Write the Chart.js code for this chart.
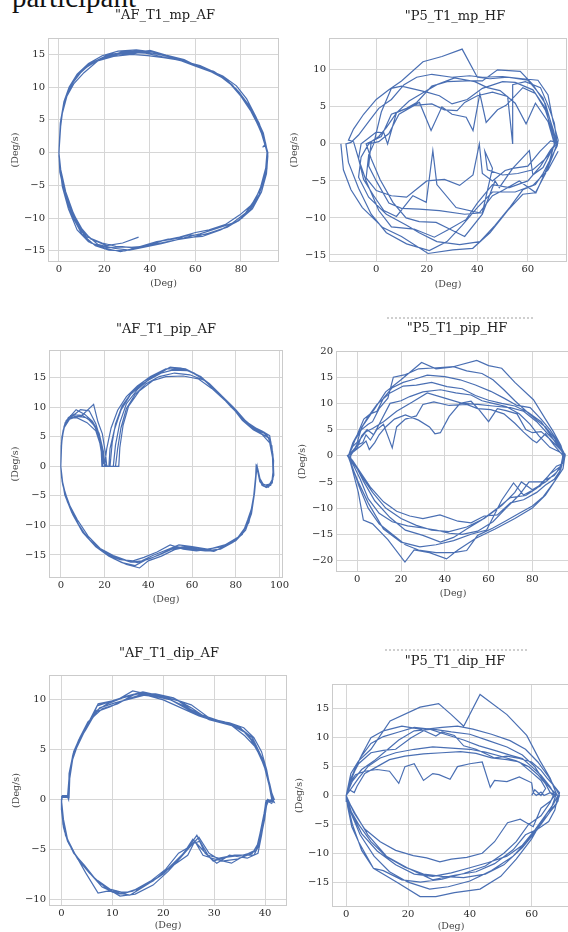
<!DOCTYPE html>
<html>
<head>
<meta charset="utf-8">
<script src="https://cdn.jsdelivr.net/npm/chart.js@4.4.0/dist/chart.umd.min.js"></script>
<style>
  html, body { margin: 0; padding: 0; background: #fff; }
  body { position: relative; width: 568px; height: 932px; overflow: hidden; }
  .panel { position: absolute; }
  .ttl { position: absolute; transform: translate(-50%, -50%); font-family: 'DejaVu Serif', serif; font-size: 13px; color: #222; white-space: nowrap; }
  .cap { position: absolute; left: 12px; top: -17px; font-family: 'Liberation Serif', serif; font-size: 29px; line-height: 29px; color: #111; white-space: nowrap; }
  .cut { position: absolute; height: 0; border-top: 2px dotted #cfcfcf; }
</style>
</head>
<body>
<div class="cap">participant</div>
<div class="cut" style="left:387px; top:317px; width:146px;"></div>
<div class="cut" style="left:385px; top:649px; width:142px;"></div>
<script>
// phase plots: joint angle (Deg) vs angular velocity (Deg/s)

// --- tick labels ---
const mpAF_xTicks = [0, 20, 40, 60, 80];
const mpAF_yTicks = [-15, -10, -5, 0, 5, 10, 15];
const mpHF_xTicks = [0, 20, 40, 60];
const mpHF_yTicks = [-15, -10, -5, 0, 5, 10];
const pipAF_xTicks = [0, 20, 40, 60, 80, 100];
const pipAF_yTicks = [-15, -10, -5, 0, 5, 10, 15];
const pipHF_xTicks = [0, 20, 40, 60, 80];
const pipHF_yTicks = [-20, -15, -10, -5, 0, 5, 10, 15, 20];
const dipAF_xTicks = [0, 10, 20, 30, 40];
const dipAF_yTicks = [-10, -5, 0, 5, 10];
const dipHF_xTicks = [0, 20, 40, 60];
const dipHF_yTicks = [-15, -10, -5, 0, 5, 10, 15];

// --- traces, [deg, deg/s] ---
const mpAF = [
  [35,-12.9],[28,-13.8],[21,-14.2],[14,-13.2],[9,-11.2],[5,-8.2],[2,-5.2],[0.4,-2],[0,0],
  [0.6,4.5],[2.2,7.8],[4.5,10],[8,12],[13,13.6],[19,14.8],[26,15.5],[34,15.7],[41,15.4],[49,14.6],[57,13.8],[64,12.9],[71,11.6],[77,10],[82,7.8],[86,5.3],[89.5,2.6],[91.5,0],
  [90.8,-2.8],[88.6,-5.3],[85.5,-7.8],[80.5,-10],[74,-11.4],[67,-12.2],[59,-12.9],[52,-13.3],[45,-13.9],[38,-14.4],[31,-14.9],[24,-14.6],[17,-14],[11,-12.2],[6.5,-9.4],[3,-6],[0.8,-2.6],[0,0],
  [1,5.2],[3,8.4],[6,10.6],[10,12.4],[15,13.8],[22,15],[30,15.3],[38,15.2],[46,14.6],[54,14],[62,13.3],[69,12.2],[75,10.6],[80,8.6],[85,6],[88.5,3.5],[91,0.6],[91.8,-0.5],
  [91.2,-3.2],[89,-6],[85,-8.6],[79,-10.4],[72,-11.6],[64,-12.5],[57,-12.6],[50,-13.2],[43,-13.6],[36,-14.3],[29,-15],[22,-14.9],[16,-14.2],[10,-12.4],[6,-9.8],[2.6,-6.4],[0.4,-3],[0,0],
  [0.5,3.8],[1.8,6.8],[4,9.4],[7,11.4],[12,13],[18,14.3],[25,15],[33,15.1],[40,15.6],[47,14.9],[55,14.2],[62,13],[68,12.4],[74,11],[79,9.3],[84,7],[88,4.5],[90.8,1.5],[91.6,0],
  [91,-2.2],[88.2,-5.8],[84.6,-8],[79.5,-9.5],[73,-11],[66,-11.8],[60,-12.2],[53,-12.9],[46,-13.4],[39,-14.2],[32,-14.5],[25,-14.3],[19,-13.8],[12,-12.8],[7,-10.4],[3.5,-7.2],[1.2,-4],[0,-0.5],
  [0.4,3],[1.5,6],[3.5,8.6],[6.5,10.5],[11,12.2],[17,14],[24,14.7],[32,15],[39,14.8],[46,14.5],[53,14.1],[60,13.2],[67,12.3],[73,11.2],[78,9.7],[83,7.2],[87.2,4.4],[90.3,1.9],[91.8,0],
  [91.4,-2.5],[89.5,-4.7],[86.5,-7],[82,-9.2],[76,-10.8],[70,-11.5],[62,-12.4],[55,-13],[48,-13.2],[41,-13.8],[34,-14.6],[27,-15.1],[20,-14.6],[13,-13.6],[8,-11.8],[4.2,-8.6],[1.5,-5.2],[0.2,-1.5],[0,0],
  [0.8,5],[2.6,8.2],[5.2,10.2],[9,12.1],[14,13.7],[20,14.6],[28,15.4],[36,15.5],[44,15],[51,14.4],[59,13.5],[66,12.6],[72,11.7],[78,10.2],[82.5,8.2],[86.5,5.5],[89.8,3],[91.5,0.3],
  [90.6,-3.5],[88,-6.4],[84,-8.8],[78,-10.6],[71,-11.8],[63,-12.8],[56,-13],[49,-13.5],[42,-14],[35,-14.5],[28,-14.4],[21,-14.5],[14,-13.8],[9,-11.6],[5,-8.6],[2,-5.6],[0.5,-2.2],[0,0],
  [0.7,4.2],[2,7.2],[4.2,9.6],[7.5,11.6],[12.5,13.2],[19,14.4],[26,15],[33,15.3],[41,15.2],[48,14.7],[56,13.9],[63,13],[70,11.9],[76,10.4],[81,8.3],[85.5,6],[88.8,3.3],[90.5,1.2],[89.5,0.8]
];

const mpHF = [
  [-14,0],[-13,-3.5],[-10,-6.2],[-5.5,-8.6],[2.6,-11.3],[10,-12.5],[20.5,-14.8],[30.3,-14.3],[38.2,-14.1],[45,-12],[52,-9],[58,-6.8],[63,-6.6],[67,-4],[70,-1.5],[71.5,0],
  [70,2],[66,6.2],[60,8.6],[52,9],[45,8.8],[40,9],[34,12.8],[26,11.8],[18.5,11.1],[10,8.5],[5,7.3],[0,6],[-5,4],[-9,2],[-11,0.5],[-9,0.3],
  [-7,-2],[-4,-5],[1,-9],[6,-11.2],[15,-11.5],[23,-12.6],[29,-11.5],[35.6,-10.2],[40,-8],[46,-5.5],[52.7,-5.9],[60,-5],[65,-3],[69,-0.8],[71,0],
  [69.5,2.4],[67,5.4],[62,8],[57,9.8],[48,10],[42,8.5],[36,8.5],[28,8.4],[22,7.8],[16,5.6],[12,4.8],[6,4],[2,1],[-1,0.5],[-4,0],
  [-2,-2],[1.5,-4.8],[6.6,-7.9],[11.8,-10],[17,-10.5],[23.7,-10.6],[29,-11.5],[35,-12.5],[42,-9.5],[47,-5],[48.7,-5.9],[54,-3.3],[60.6,-0.9],[62,-4.2],[66,-3.2],[70,-0.5],[71,0.4],
  [69.8,1.6],[67,4.5],[63,6.8],[58,7.6],[51.4,5.2],[48,4.6],[43.5,2.9],[41,6.8],[38.3,1.8],[35.6,3.6],[30,4],[26,5],[21.7,1.8],[17.1,5.6],[12,4.8],[8,4.2],[4.5,0],[3,1.5],[0,1.6],[-3,0.8],[-6,0],
  [-7,-2],[-5,-4.8],[-1,-7],[3,-9],[8,-9.8],[14.5,-7],[19.8,-7.9],[22.4,-0.9],[24,-5.5],[31.6,-8.6],[40.8,-9.3],[46,-7],[50,-6.3],[56.6,-5],[63.2,-6.6],[68,-3],[70.5,0],
  [68,3],[63,5.5],[59.3,2.7],[55,5.5],[49,7.2],[44,7.6],[39,8.4],[31,8.9],[24,8],[18,6.8],[13,5.8],[8,4.2],[4,2.2],[1,1],[-2,0.3],
  [-3,-3],[0,-5],[5,-8],[10,-8.7],[17,-8.8],[25,-9],[35,-9.5],[42,-9.3],[46,-3.3],[43,-1],[44,-3.5],[50,-4.2],[56,-4],[62,-3.5],[67,-2],[70.8,-0.2],
  [70,0.8],[67,4.8],[62,7.3],[55,8.3],[50,8.4],[42,7.5],[36,6],[30,5.4],[25,6.5],[20,7],[15,7.4],[10,7.8],[6,7.5],[2,4.3],[0,1.5],[-1,0],
  [-3,-1.5],[-4,-4.6],[0,-6.3],[6,-7],[12,-7.2],[20,-5],[27,-4.8],[33,-5.6],[38.3,-4.2],[40.8,0],[42,-4],[46,-5],[51,-3.6],[54,-3.3],[60,-3],[64.8,-1],[69,0.4],[71.5,0.2],
  [70.5,2.8],[68,5.2],[65,7.6],[59,8.4],[54,8],[54,0],[52,6.4],[46,7],[40,6.5],[35,5.6],[32,4.5],[27,4.6],[22,5.4],[15,5.2],[9,4],[5,1.4],[1,0.3],[-3,0],
  [-6,-1.8],[-7,-4.5],[-3,-7.2],[4,-9.5],[12,-11],[17,-12],[24,-13.2],[33,-13.6],[41,-13.2],[47,-11],[53,-8.5],[58,-6.2],[63,-5.5],[66,-4],[69,-2],[71.6,-0.3],[72,0.5],
  [70,3],[68,6.6],[64,8.6],[58,8.8],[50,9.1],[42,9],[37,9.2],[30,9],[22,9.4],[16,9],[11,8],[6,6],[1,4.8],[-3,3],[-7,1.2],[-10,0.2],[-12,0],
  [-11,-2.5],[-7,-6],[-2,-9.5],[4,-12],[12,-13.5],[21,-14.4],[28,-13.2],[34,-11],[40,-8.6],[46,-6.5],[55,-6.5],[62,-5.6],[68,-3.5],[72,-1]
];

const pipAF = [
  [0,0],[0.2,3.5],[1,6],[2.5,7.8],[6,8.8],[10,8.6],[14,7.6],[17,5.8],[18.5,2.5],[18.8,0],[20,0],[21,3],[23,6.5],[26,9.5],[30,11.8],[35,13.6],[41,15.2],[48,16.5],[55,16.6],[61,15.8],[67,14.2],[73,12],[78,10.2],[83,7.8],[88,6.2],[92,5.4],[95.5,4],[96.8,1.5],[97,-1],[96.5,-2.6],[94.5,-3.3],[92.5,-3],[91,-2],[90,-0.3],[89.6,0],
  [89.2,-2],[88.6,-4.5],[87.2,-8],[84.5,-10.8],[80,-12.6],[74,-13.6],[67,-14],[60,-13.6],[54,-13.3],[48,-14.2],[42,-15.1],[37,-16],[32,-16.2],[26,-15.5],[20,-14.5],[14,-12.8],[9,-10.5],[5,-7.5],[2,-4.5],[0.4,-2],[0,0],
  [0.4,4.5],[1.6,6.6],[4,8],[8,8.5],[12,8.2],[15.5,6.8],[18,4.5],[19.8,1],[20.5,0],[22.5,0],[23.5,4],[25,7.2],[28,10.2],[33,12.8],[38,14.4],[44,15.6],[51,16.3],[58,16.2],[64,15.2],[70,13.2],[76,11],[81,9],[86,7],[90,6],[94,5.5],[96.5,3.5],[97.2,0.5],[97,-2.2],[95,-3.5],[93,-3.4],[91,-2.6],[90,-0.8],[89.3,0],
  [89,-2.5],[88,-6],[86,-9.5],[82,-11.8],[76,-13.4],[70,-14.4],[64,-14.1],[57,-13.5],[51,-14],[45,-15],[39,-15.8],[34,-16.8],[28,-16.3],[22,-15.2],[16,-13.6],[10,-11.2],[5.5,-8.2],[2.4,-5.2],[0.6,-2.6],[0,0],
  [0.2,2.8],[0.8,5.6],[2,7.4],[5,8.4],[9,9.6],[13,9.4],[16,7.2],[18,4.8],[19.5,0.5],[21.5,0],[24,0],[25,3.6],[27,7.4],[30,10.6],[35,13],[40,14.6],[46,15.8],[53,16.5],[59,16.1],[65,14.8],[71,12.7],[77,10.6],[82,8.6],[87,6.6],[91,5.7],[95,4.8],[96.8,2.6],[97.3,-0.5],[96.7,-2.8],[94,-3.6],[92,-3.2],[90.6,-1.8],[89.8,0],
  [89.4,-1.2],[88.8,-3.6],[87.6,-7],[85,-10],[81,-12],[75,-13.3],[68,-14],[62,-14.3],[56,-14],[50,-13.3],[44,-14.5],[38,-15.4],[33,-16],[27,-15.8],[21,-14.9],[15,-13.2],[9.5,-10.8],[5,-7.8],[1.8,-4.8],[0.3,-1.5],[0,0],
  [0.5,5],[1.8,7],[4.5,8.6],[9,8.4],[15,10.5],[17,7.5],[19,5.5],[20.5,2],[21,0],[25,0],[26,3],[27.5,6.5],[30,9.8],[34,12.2],[39,14],[45,15.2],[52,15.8],[59,15.5],[66,14.5],[72,12.4],[78,10],[83,8.2],[87.5,6.8],[92,6],[95.5,5.2],[97,2],[97.4,-1.5],[96,-3.2],[93.5,-3.5],[91.5,-2.8],[90.3,-1],[89.5,-0.2],
  [89,-2.8],[87.8,-6.5],[85.5,-9],[83,-11.5],[78,-13],[71,-14.2],[64,-14],[57,-13.7],[52,-14.1],[46,-15.2],[40,-16],[36,-17.2],[30,-16.6],[24,-15.6],[18,-14.1],[12,-12],[7,-9.2],[3,-6],[0.8,-3],[0,0],
  [0.3,4],[1.4,6.4],[3.2,8],[7,9.6],[11,8.8],[14.5,7.6],[17.5,5.6],[19.5,2.5],[20.2,0],[26.5,0],[27,3.2],[28.5,7],[31,10.2],[36,12.8],[42,14.5],[48,15.2],[56,15.3],[63,14.8],[69,13.2],[75,11.2],[80,9.6],[85,7.5],[89.5,6.4],[93,5.8],[96,4.2],[97.3,1],[97,-2],[95.5,-3],[93,-3.2],[91.2,-2.3],[90.2,-0.6],[89.6,0],
  [89,-2],[88.2,-5],[86.5,-8.5],[83.5,-11],[79,-12.8],[73,-14],[66,-14.3],[59,-14],[53,-13.6],[47,-14.6],[41,-15.6],[35,-16.3],[30,-15.9],[24,-15.1],[18,-13.9],[12.5,-11.8],[7.5,-9],[3.5,-6.2],[1,-3.2],[0,0],
  [0.4,4],[1.5,6.8],[3.5,8.3],[7.5,8.2],[12,7.4],[16,6],[18.5,3.2],[19.2,0],[22,0],[22.5,3],[24.5,6.2],[27.5,9.5],[32,12.2],[37.5,14],[44,15.5],[50,16.8],[57,16.5],[63,15.4],[68,14],[74,11.8],[79,10],[84,7.6],[88.5,6.4],[93,5.6],[96,4.5]
];

const pipHF = [
  [-4,0],[-1,3],[3,6],[8,9],[13,12.2],[20,14.5],[29.4,17.8],[36,16.6],[43,16.9],[54.6,18.2],[60,17.2],[66,16.7],[72,14],[80.5,10.7],[86,7],[89.6,4.6],[93,2],[94.5,0],
  [93,-2.6],[90,-5],[86,-7.5],[80,-10],[72,-12],[63,-14],[54,-15.8],[46,-18],[40.8,-19.7],[33,-18.5],[26,-18],[21.8,-20.3],[14,-16],[7,-13],[2.8,-12.3],[0.5,-7],[-2,-3],[-4,0],
  [-1,1.5],[1,3],[4,4.6],[7,5.2],[12,6.5],[18,8.5],[25,10.2],[32,12],[40,11],[48,10],[55,9.8],[62,9.5],[70,9.2],[76,8.5],[82,6.5],[87,4.2],[91,2.5],[94,0.5],
  [93.5,-1.5],[91,-3.2],[86,-5],[80,-6.5],[75,-5],[72,-7],[66,-9.5],[58,-12],[50,-13.6],[42,-14.5],[34,-14.2],[27,-13.3],[20,-12],[13,-10],[7,-7],[3,-4.5],[0,-2.5],[-3,-0.5],
  [-3,0],[0,2],[2.5,2.5],[4,4],[6,3],[9,5],[12,6],[16,1.5],[18,5.5],[22,7],[27,7.6],[30,9.8],[35,10.3],[42,9.6],[50,9.8],[55,9],[61,8.8],[67,8],[72,6.2],[76,4.5],[80,3],[82,2.5],[86,4.2],[90,2],[94,0],
  [92.5,-3],[90,-4.5],[86,-5.6],[82,-7],[76,-8.4],[70,-9],[64,-11.3],[58,-11.5],[52,-12.8],[46,-12.5],[37.8,-11.3],[30,-12],[24,-11.5],[18,-10.6],[12,-8.8],[6,-6],[2,-3.5],[-2,-1],[-4,0],
  [-2,1.8],[0,2.6],[2,5.4],[5,7.5],[9,9.8],[15,12],[21,13.3],[27,13.5],[34,14],[41,13.2],[48,12.8],[54,11.5],[60,10.6],[66,10],[72,9.5],[78,8.3],[84,6.5],[89,3.5],[92,1.6],[95,0],
  [93,-2],[88,-3.5],[83.6,-5.8],[76,-7.5],[71.4,-5.2],[66,-8.5],[59.1,-14.2],[52,-15],[44,-16.2],[36,-17],[28.6,-17.4],[20,-16.5],[12,-14],[5,-9],[0.5,-5],[-2.5,-2],[-4,-0.3],
  [-4.5,0],[-2.5,0.6],[0,1.5],[2,3.8],[4.5,5],[7.5,4],[10,6],[15,10],[20,10.5],[24,11.3],[30,12.2],[38,12.6],[45,12],[52,11.6],[57,10.5],[62,10],[68,9.4],[74,8],[79,6],[83,3.8],[88,1.6],[92,0.8],[94.5,0.2],
  [93.5,-1.8],[90,-3.8],[84,-5],[78.5,-5],[74,-7.5],[68,-10],[62,-12.6],[55,-14.4],[48,-15],[42,-14.8],[36,-14.2],[30,-13.8],[23,-13.4],[16,-12.6],[10,-11],[5,-8.2],[1.5,-4.6],[-1.5,-2],[-4,0],
  [-1,1],[1.5,1.8],[4,2.8],[5.5,1.2],[8,2.5],[10,4],[13,5.5],[17,7],[22,7.8],[28,6.8],[33,5.5],[35.5,4.2],[38,4.4],[42,7.5],[47,10],[52,10.4],[56,8.6],[60,6.5],[64,9],[68,8.6],[73,8],[77,5],[80,4.4],[84,4.6],[88,3.2],[92,1.5],[95,0.3],
  [94,-2.5],[90,-5],[85,-7.8],[80,-9.6],[74,-11],[68,-12.4],[62,-13.8],[55,-15.2],[50,-18.1],[44,-18.5],[36,-18.5],[28,-18],[22,-17],[16,-15],[10,-13],[5,-10],[1,-6],[-1.5,-3],[-4,0],
  [-1,3],[2,5],[5,6],[7,6.5],[10,9],[14,11],[16.5,15],[22,15.5],[28,16.6],[36.3,16.8],[44,17],[50,16.2],[57,15.7],[62,14.5],[67,12.6],[72,10.5],[78,8.2],[82,6.8],[86,5.5],[90,3.4],[93.5,1.2],[95,0],
  [94,-1.5],[91,-2],[87,-4],[82,-6.2],[77,-7.6],[70,-8],[64,-10],[57,-12.2],[50,-14],[44,-15.6],[38,-16.5],[30,-15.2],[22,-14.2],[15,-11.8],[8,-8.6],[3,-5],[0,-2.5],[-4,0],
  [-2,2.5],[0,4],[3,7],[6,8],[9,8.5],[12,11],[16,13],[21,14],[26,14.6],[32,15.4],[40,15.1],[47,14.5],[54,13.5],[61,12.3],[67,11],[73,9.6],[79,9.2],[84,7],[88,5],[92,2.5],[94.5,0.5]
];

const dipAF = [
  [0,0],[0.1,0.3],[1.1,0.4],[1.4,0],[1.5,2.6],[2.3,4.6],[3.4,6],[5,7.4],[7,9.4],[10,9.9],[13,10.4],[16,10.8],[19.5,10.4],[23,9.9],[26,8.8],[29,8],[32.5,7.6],[35.5,7],[37.8,5.8],[39.6,3.8],[40.9,1.6],[41.6,0],[41.3,-0.4],[40.2,-0.1],
  [39.8,-1.4],[39,-3.4],[38.2,-5.2],[35.5,-5.6],[32.5,-5.8],[29.8,-6.2],[27.6,-5],[25.8,-4],[24,-5.4],[21,-6.9],[18,-8.2],[15,-9],[12.5,-9.4],[9.5,-9],[6.5,-7.9],[4,-6.4],[2,-5],[0.6,-3.2],[0.1,-1],[0,0],
  [0.3,0.3],[1.3,0.3],[1.6,2],[2.2,4],[3.2,5.5],[4.8,7.2],[6.5,8.8],[9,9.6],[12,10.2],[15,10.6],[18,10.4],[21.5,10],[25,9],[28.5,8.2],[32,7.8],[35,7.2],[37.5,6.2],[39.4,4.2],[40.6,2.2],[41.4,0.2],[41.8,-0.3],[40.5,0],
  [40.1,-1.2],[39.3,-3.6],[38.6,-5.4],[36.5,-5.9],[33,-5.6],[30.5,-6.4],[28.2,-5.4],[26.6,-3.6],[25.2,-4.6],[23,-6],[20,-7.5],[17,-8.5],[13.5,-9.6],[10,-9.3],[7,-8.2],[4.5,-6.6],[2.4,-5.4],[0.8,-3.6],[0.2,-1.5],[0,0],
  [0.2,0.2],[1.2,0.2],[1.4,1.5],[2,3.8],[3,5.2],[4.5,6.8],[6,8.2],[7.2,9.6],[11,10],[14,10.9],[17.5,10.5],[21,10.1],[24,9.4],[27.5,8.5],[31,7.9],[34,7.3],[36.5,6.6],[38.6,5],[40,3.2],[41,1.2],[41.7,-0.2],[40.4,-0.2],
  [39.9,-2],[39.1,-4],[37.5,-5.4],[34.5,-6],[31.5,-6.2],[29,-5.4],[27,-3.8],[25.5,-4.6],[23.5,-5.8],[21,-7.2],[18,-8.6],[14.5,-9.5],[11.5,-9.7],[8.5,-8.8],[5.5,-7.4],[3.2,-6],[1.4,-4.4],[0.3,-2.5],[0,-0.4],[0,0],
  [0.1,0.3],[1.2,0.3],[1.5,0.2],[1.7,3],[2.6,4.9],[4,6.4],[5.6,7.8],[7.5,9.2],[10.5,9.7],[13.5,10.1],[16.5,10.5],[20,10],[23.5,9.2],[27,8.4],[30.5,7.8],[33.5,7.4],[36,6.4],[38.2,5.2],[39.8,3.4],[40.8,1.4],[41.3,0],[40.1,-0.3],
  [39.6,-2.6],[38.8,-4.6],[37.8,-5.6],[34,-5.6],[31,-5.9],[28.8,-5.6],[27.2,-4.2],[26,-4.4],[24.8,-5.6],[22,-6.6],[19,-7.8],[16,-8.8],[13,-9.3],[9,-9.2],[7.2,-9.4],[4.8,-7.4],[2.8,-5.6],[1.2,-4],[0.4,-2],[0,0],
  [0.2,0.4],[1.3,0.4],[1.6,2.4],[2.4,4.8],[3.6,6.2],[5.2,7.8],[8,9.1],[11,9.6],[14.5,10.6],[18.5,10.6],[22,10.2],[25.5,9.2],[29,8],[32,7.6],[35,7.3],[37.2,6],[39,4.4],[40.4,2.5],[41.2,0.8],[41.8,0],[40.6,-0.2],
  [40,-1],[39.4,-2.8],[38.4,-5],[36.4,-5.5],[33.4,-6.4],[30.2,-6],[27.8,-5.6],[26.2,-4.2],[25,-4.8],[23,-5.4],[20.5,-7],[17.5,-8.2],[14,-9.2],[11,-9.5],[8,-8.8],[5.2,-7.2],[3,-5.8],[1.2,-4.2],[0.4,-2.8],[0,-1],[0,0],
  [0.1,0.2],[1.2,0.3],[1.5,2.2],[2.2,4.4],[3.3,5.8],[4.8,7],[6.8,8.8],[9.5,9.3],[12.5,10],[15.5,10.5],[19,10.3],[22.5,10],[25.5,9.5],[29.5,8],[33,7.7],[35.8,7.2],[37.8,6.2],[39.3,4.8],[40.3,3],[41,1.2],[41.4,0]
];

const dipHF = [
  [0,0],[1.5,3.8],[4,6],[8,8],[14.2,12.9],[23.9,15.3],[29.9,15.9],[34,14],[38,12],[43.3,17.5],[52,14],[58.4,10.4],[62.7,6],[66,3],[68,0.3],
  [66.5,-2],[63.7,-4],[60,-7.5],[55,-11],[50,-14],[43.3,-16.2],[35,-16.8],[29,-17.5],[23.9,-17.5],[16.4,-15],[8.8,-12.6],[4,-8],[1.8,-5.4],[0.5,-2],[0,0],
  [2,2.5],[5,4.5],[9,6],[13,7.8],[17,9.6],[22,11.2],[28,11.5],[34,11],[40,10.6],[46,9.5],[52,8.4],[57,7],[61,5],[64,2.5],[66.5,1],[68.5,0],
  [67,-1.5],[64.5,-3.4],[61,-6],[57,-8.6],[52,-10.5],[46,-11.6],[40,-12.5],[34,-13.4],[28,-14],[22,-13.6],[16,-12],[10,-9.6],[5,-6.6],[2,-3.4],[0,0],
  [1,2],[3,3.6],[6,4.2],[10,4.5],[14,4.2],[17,2.1],[19,5],[22,5.5],[25,2.6],[28,3.8],[30,3.6],[33.6,2.8],[36,5],[40,5.5],[44,5.8],[46.6,1.4],[48,2.6],[52,2.4],[56,3.2],[60,2.2],[60.5,0.5],[61.5,0],[63,0.6],[64,0],[66,0.5],[68.5,0],
  [67.5,-2.5],[65.5,-4.5],[62,-5.8],[58,-6.8],[54,-9.4],[48,-11.8],[42,-13.2],[35,-13.8],[28,-14.6],[20,-12.6],[13,-10.5],[7,-6.8],[3,-3.2],[0.5,-0.8],[0,0],
  [1.8,3],[4.5,6.5],[8,9],[12,10.2],[17,11],[22,11.8],[27,11.5],[32,10.6],[38,9.6],[43,8.6],[48,7.8],[53,7],[57,6.4],[60,5],[63,3.5],[66,1.5],[67.5,0],
  [66,-1],[63,-2.2],[60.5,-5.4],[56.3,-4.1],[52.2,-4.7],[48,-8],[44,-10],[39,-10.7],[34,-11],[30.3,-11.5],[26,-10.8],[21.7,-10.4],[16,-9.5],[11,-8],[6,-5.8],[2.5,-3],[0.5,-0.6],[0,0],
  [2,1.5],[4,3],[7,5],[11,6.5],[16,7.4],[22,8],[28,8.4],[34,8.2],[40,8],[45,7.5],[50,6.8],[55,6],[59,5],[62,3.6],[64.5,2],[66,0.5],[67,0],
  [66,-1.2],[63,-3.5],[59,-5],[55,-8],[51,-10],[45,-12.2],[38,-13.5],[31,-14.5],[24,-15],[18,-14.6],[12,-13],[8.8,-12.6],[5,-9.5],[2,-5],[0.2,-1],[0,0],
  [1.5,3],[4,5.5],[8,7.4],[12,7.8],[16,8],[21,10],[26,11.5],[31,11.8],[36,12],[41,11.5],[47,10.6],[53,9.5],[58,8],[62,5.8],[65.5,3.2],[68,1],[69,0],
  [68,-1.5],[66,-2.8],[63,-5],[59,-7.6],[54,-10.5],[47,-13],[40,-14.8],[33,-15.8],[27,-16.2],[20,-15],[14,-13.2],[9,-10.5],[4.5,-6.8],[1.5,-3],[0,0],
  [0.8,2],[2.5,4.2],[5,7],[8,10],[12,11.2],[18,12],[24,11.5],[29,10.3],[31,11],[35,10.4],[38,8.6],[42,8],[46,7],[48,6.5],[52,6.8],[56,6.4],[60,5.8],[63,4.4],[65,3],[67.5,1.5],[69,0.5],
  [68.5,-1],[67,-2],[65,-3],[62,-5.8],[57,-9],[51,-12],[45,-13.6],[38,-14.2],[31,-14],[25,-13.6],[19,-12.4],[13,-10.6],[8,-8],[4,-5],[1,-2.2],[0,0],
  [1,1],[2.6,0.5],[3.5,1.6],[6,3.8],[10,5],[14,6.2],[19,6.8],[25,7.2],[31,7.4],[37,7.6],[42,7.3],[47,6.5],[52,6.2],[56,5.8],[60,4],[63,2.6],[64.5,1.2],[63,0],[61,1],[60,0]
];

// --- panel placement (plot box in page px) and axis ranges ---
const PANELS = [
  { title: '"AF_T1_mp_AF',  data: mpAF,  xT: mpAF_xTicks,  yT: mpAF_yTicks,  xr: [-4.8, 96.7], yr: [-16.7, 17.5], box: [48, 38, 279, 262],  ylabX: 16,  xlabY: 283, tpos: [165, 14] },
  { title: '"P5_T1_mp_HF',  data: mpHF,  xT: mpHF_xTicks,  yT: mpHF_yTicks,  xr: [-18.7, 75.5], yr: [-15.95, 14.3], box: [329, 38, 567, 262], ylabX: 295, xlabY: 284, tpos: [455, 15] },
  { title: '"AF_T1_pip_AF', data: pipAF, xT: pipAF_xTicks, yT: pipAF_yTicks, xr: [-5.4, 101.6], yr: [-18.9, 19.7], box: [49, 350, 283, 578], ylabX: 16,  xlabY: 599, tpos: [166, 328] },
  { title: '"P5_T1_pip_HF', data: pipHF, xT: pipHF_xTicks, yT: pipHF_yTicks, xr: [-9.7, 97.2], yr: [-22.2, 20], box: [336, 351, 570, 572], ylabX: 303, xlabY: 593, tpos: [457, 327] },
  { title: '"AF_T1_dip_AF', data: dipAF, xT: dipAF_xTicks, yT: dipAF_yTicks, xr: [-2.44, 44.3], yr: [-10.7, 12.5], box: [49, 675, 287, 906], ylabX: 17,  xlabY: 925, tpos: [169, 652] },
  { title: '"P5_T1_dip_HF', data: dipHF, xT: dipHF_xTicks, yT: dipHF_yTicks, xr: [-4.6, 72.4], yr: [-19.3, 19.3], box: [332, 684, 570, 907], ylabX: 300, xlabY: 926, tpos: [455, 660] }
];

const FONT = 'DejaVu Serif';
const LINE = '#4a6fb3';
const GRID = '#d6d6d6';
const FRAME = '#cbcbcb';
const PAD = 20;
const TICK_SIZE = 10;
const LAB_SIZE = 9.5;

const fmt = v => (v < 0 ? '\u2212' + Math.abs(v) : String(v));

// light grey box round the plot area, like seaborn whitegrid
const framePlugin = {
  id: 'frame',
  beforeDatasetsDraw(chart) {
    const a = chart.chartArea;
    const ctx = chart.ctx;
    ctx.save();
    ctx.strokeStyle = FRAME;
    ctx.lineWidth = 1;
    ctx.strokeRect(Math.round(a.left) + 0.5, Math.round(a.top) + 0.5, Math.round(a.right - a.left) - 1, Math.round(a.bottom - a.top) - 1);
    ctx.restore();
  }
};

function makePanel(p) {
  const [L, T, R, B] = p.box;
  const lh = LAB_SIZE * 1.2;
  const yw = Math.round(L - p.ylabX + lh / 2);
  const xh = Math.round(p.xlabY + lh / 2 - B);
  const w = PAD + yw + (R - L) + PAD;
  const h = PAD + (B - T) + xh + PAD;

  const wrap = document.createElement('div');
  wrap.className = 'panel';
  wrap.style.left = (L - yw - PAD) + 'px';
  wrap.style.top = (T - PAD) + 'px';
  wrap.style.width = w + 'px';
  wrap.style.height = h + 'px';
  const cv = document.createElement('canvas');
  cv.width = w;
  cv.height = h;
  cv.style.width = w + 'px';
  cv.style.height = h + 'px';
  wrap.appendChild(cv);
  document.body.appendChild(wrap);

  const t = document.createElement('div');
  t.className = 'ttl';
  t.textContent = p.title;
  t.style.left = p.tpos[0] + 'px';
  t.style.top = p.tpos[1] + 'px';
  document.body.appendChild(t);

  const tickFont = { family: FONT, size: TICK_SIZE };
  const labFont = { family: FONT, size: LAB_SIZE };

  new Chart(cv, {
    type: 'scatter',
    data: {
      datasets: [{
        data: p.data.map(([x, y]) => ({ x, y })),
        showLine: true,
        borderColor: LINE,
        borderWidth: 1.2,
        pointRadius: 0,
        tension: 0
      }]
    },
    options: {
      responsive: false,
      animation: false,
      layout: { padding: PAD },
      plugins: { legend: { display: false }, tooltip: { enabled: false } },
      scales: {
        x: {
          type: 'linear',
          min: p.xr[0],
          max: p.xr[1],
          afterBuildTicks: s => { s.ticks = p.xT.map(v => ({ value: v })); },
          afterFit: s => { s.height = xh; },
          grid: { color: GRID, drawTicks: false },
          border: { display: false },
          ticks: { padding: 1, color: '#2b2b2b', font: tickFont, maxRotation: 0, autoSkip: false, callback: v => fmt(v) },
          title: { display: true, text: '(Deg)', padding: 0, color: '#444', font: labFont }
        },
        y: {
          type: 'linear',
          min: p.yr[0],
          max: p.yr[1],
          afterBuildTicks: s => { s.ticks = p.yT.map(v => ({ value: v })); },
          afterFit: s => { s.width = yw; },
          grid: { color: GRID, drawTicks: false },
          border: { display: false },
          ticks: { padding: 3, color: '#2b2b2b', font: tickFont, autoSkip: false, callback: v => fmt(v) },
          title: { display: true, text: '(Deg/s)', padding: 0, color: '#444', font: labFont }
        }
      }
    },
    plugins: [framePlugin]
  });
}

PANELS.forEach(makePanel);
</script>
</body>
</html>
